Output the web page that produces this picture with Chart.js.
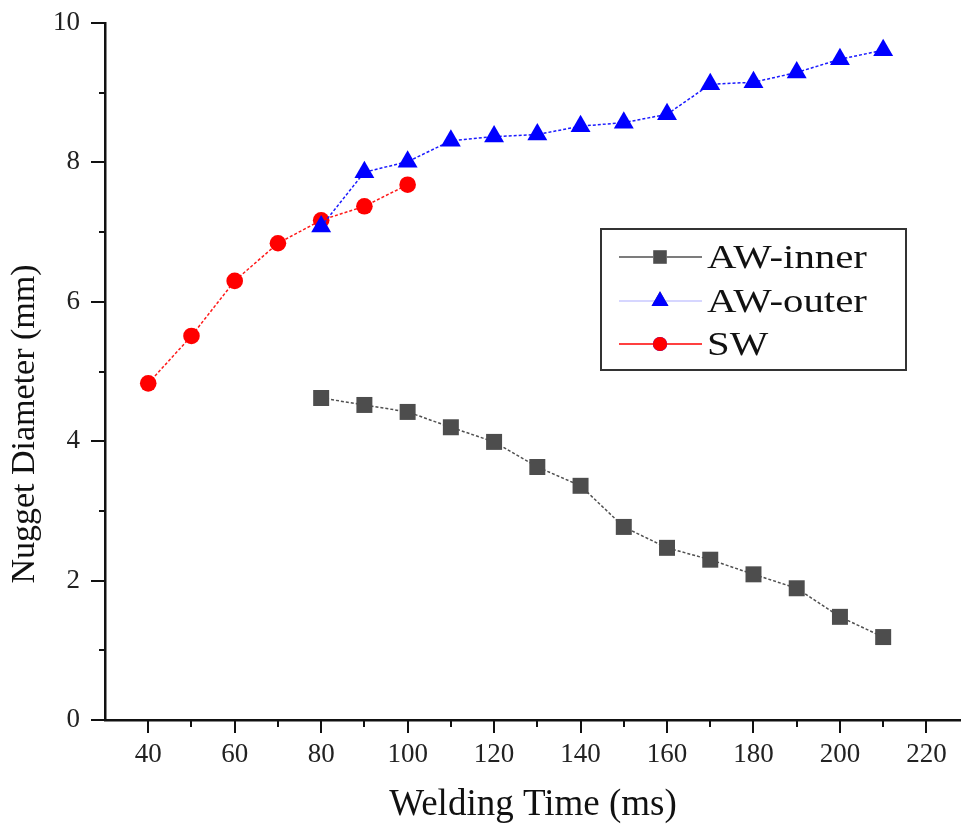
<!DOCTYPE html>
<html>
<head>
<meta charset="utf-8">
<title>Nugget Diameter vs Welding Time</title>
<script src="https://cdn.jsdelivr.net/npm/chart.js@4.4.1/dist/chart.umd.min.js"></script>
<style>
  html, body { margin: 0; padding: 0; background: #fff; }
  canvas { display: block; }
</style>
</head>
<body>
<canvas id="nuggetChart" width="961" height="831"></canvas>
<script>
// welding time (ms)
var swTime = [40, 50, 60, 70, 80, 90, 100];
var awTime = [80, 90, 100, 110, 120, 130, 140, 150, 160, 170, 180, 190, 200, 210];

// nugget diameter (mm)
var swDiameter = [4.83, 5.51, 6.30, 6.84, 7.17, 7.37, 7.68];
var awInner = [4.62, 4.52, 4.42, 4.20, 3.99, 3.63, 3.36, 2.77, 2.47, 2.30, 2.09, 1.89, 1.48, 1.19];
var awOuter = [7.08, 7.86, 8.01, 8.31, 8.37, 8.40, 8.52, 8.57, 8.69, 9.12, 9.15, 9.29, 9.48, 9.61];

// axis ticks
var xMajorTicks = [40, 60, 80, 100, 120, 140, 160, 180, 200, 220];
var xMinorTicks = [50, 70, 90, 110, 130, 150, 170, 190, 210];
var yMajorTicks = [0, 2, 4, 6, 8, 10];
var yMinorTicks = [1, 3, 5, 7, 9];

var yTitle = 'Nugget Diameter (mm)';

var serif = '"Liberation Serif", "Times New Roman", serif';

function toPoints(xs, ys) {
    return xs.map(function(x, i) { return { x: x, y: ys[i] }; });
}

// invisible grid, only there to push the tick labels off the axis
var hiddenGrid = function(len) {
    return {
        display: true,
        drawOnChartArea: false,
        drawTicks: true,
        tickLength: len,
        color: 'rgba(0,0,0,0)'
    };
};

// tick marks drawn by hand so major and minor can have different lengths
const tickMarks = {
    id: 'tickMarks',
    afterDraw: function(chart) {
        var c = chart.ctx;
        var xs = chart.scales.x;
        var ys = chart.scales.y;
        var area = chart.chartArea;
        c.save();
        c.strokeStyle = '#111';
        c.lineWidth = 2;
        c.beginPath();
        xMajorTicks.forEach(function(v) {
            var px = Math.round(xs.getPixelForValue(v));
            c.moveTo(px, area.bottom);
            c.lineTo(px, area.bottom + 13);
        });
        xMinorTicks.forEach(function(v) {
            var px = Math.round(xs.getPixelForValue(v));
            c.moveTo(px, area.bottom);
            c.lineTo(px, area.bottom + 7);
        });
        yMajorTicks.forEach(function(v) {
            var py = Math.round(ys.getPixelForValue(v));
            c.moveTo(area.left, py);
            c.lineTo(area.left - 14, py);
        });
        yMinorTicks.forEach(function(v) {
            var py = Math.round(ys.getPixelForValue(v));
            c.moveTo(area.left, py);
            c.lineTo(area.left - 6, py);
        });
        c.stroke();

        // y title sits a bit below the middle of the axis in the original
        c.save();
        c.translate(25, 424);
        c.rotate(-Math.PI / 2);
        c.fillStyle = '#111';
        c.font = '34px ' + serif;
        c.textAlign = 'center';
        c.textBaseline = 'middle';
        c.fillText(yTitle, 0, 0);
        c.restore();

        c.restore();
    }
};

// boxed legend sitting inside the plot
const boxLegend = {
    id: 'boxLegend',
    afterDraw: function(chart) {
        var c = chart.ctx;
        var left = 601, top = 229, right = 906, bottom = 370;
        var rowY = [257, 301, 344];
        c.save();
        c.fillStyle = '#fff';
        c.fillRect(left, top, right - left, bottom - top);
        c.strokeStyle = '#333';
        c.lineWidth = 2;
        c.strokeRect(left, top, right - left, bottom - top);

        chart.data.datasets.forEach(function(ds, i) {
            var y = rowY[i];
            c.strokeStyle = ds.legendLine;
            c.lineWidth = 1.5;
            c.setLineDash([]);
            c.beginPath();
            c.moveTo(619, y);
            c.lineTo(702, y);
            c.stroke();
            Chart.helpers.drawPoint(c, {
                pointStyle: ds.pointStyle,
                radius: ds.pointRadius * 0.85,
                rotation: 0,
                borderWidth: 0
            }, 660, y);
            c.fillStyle = ds.pointBackgroundColor;
            c.fill();

            c.save();
            c.translate(707, y);
            c.scale(1.2, 1);
            c.fillStyle = '#111';
            c.font = '34px ' + serif;
            c.textBaseline = 'middle';
            c.fillText(ds.label, 0, 2);
            c.restore();
        });
        c.restore();
    }
};

var ctx = document.getElementById('nuggetChart').getContext('2d');

new Chart(ctx, {
    type: 'line',
    data: {
        datasets: [
            {
                label: 'AW-inner',
                data: toPoints(awTime, awInner),
                borderColor: '#505050',
                legendLine: '#505050',
                borderWidth: 1.5,
                borderDash: [3, 2],
                pointStyle: 'rect',
                pointRadius: 11.3,
                pointBackgroundColor: '#4d4d4d',
                pointBorderColor: '#4d4d4d',
                pointBorderWidth: 0
            },
            {
                label: 'AW-outer',
                data: toPoints(awTime, awOuter),
                borderColor: '#1a1aff',
                legendLine: '#c8c8ff',
                borderWidth: 1.5,
                borderDash: [3, 2],
                pointStyle: 'triangle',
                pointRadius: 11.5,
                pointBackgroundColor: '#0000ff',
                pointBorderColor: '#0000ff',
                pointBorderWidth: 0
            },
            {
                label: 'SW',
                data: toPoints(swTime, swDiameter),
                borderColor: '#ff1a1a',
                legendLine: '#ff0000',
                borderWidth: 1.5,
                borderDash: [3, 2],
                pointStyle: 'circle',
                pointRadius: 8.3,
                pointBackgroundColor: '#ff0000',
                pointBorderColor: '#ff0000',
                pointBorderWidth: 0
            }
        ]
    },
    options: {
        responsive: false,
        animation: false,
        layout: {
            autoPadding: false,
            padding: { top: 23, right: 0, bottom: 0, left: 0 }
        },
        plugins: {
            legend: { display: false },
            tooltip: { enabled: false }
        },
        scales: {
            x: {
                type: 'linear',
                min: 30,
                max: 228,
                afterBuildTicks: function(scale) {
                    scale.ticks = xMajorTicks.map(function(v) { return { value: v }; });
                },
                afterFit: function(scale) {
                    scale.height = 111;
                    scale.paddingLeft = 0;
                    scale.paddingRight = 0;
                },
                grid: hiddenGrid(19),
                border: { display: true, color: '#111', width: 2.5 },
                ticks: {
                    padding: 0,
                    color: '#222',
                    font: { family: serif, size: 27 },
                    maxRotation: 0
                },
                title: {
                    display: true,
                    text: 'Welding Time (ms)',
                    color: '#111',
                    font: { family: serif, size: 37 },
                    padding: { top: 0, bottom: 4 }
                }
            },
            y: {
                min: 0,
                max: 10,
                afterBuildTicks: function(scale) {
                    scale.ticks = yMajorTicks.map(function(v) { return { value: v }; });
                },
                afterFit: function(scale) { scale.width = 105; },
                grid: hiddenGrid(25),
                border: { display: true, color: '#111', width: 2.5 },
                ticks: {
                    padding: 0,
                    color: '#222',
                    font: { family: serif, size: 27 }
                },
                title: { display: false }
            }
        }
    },
    plugins: [tickMarks, boxLegend]
});
</script>
</body>
</html>
